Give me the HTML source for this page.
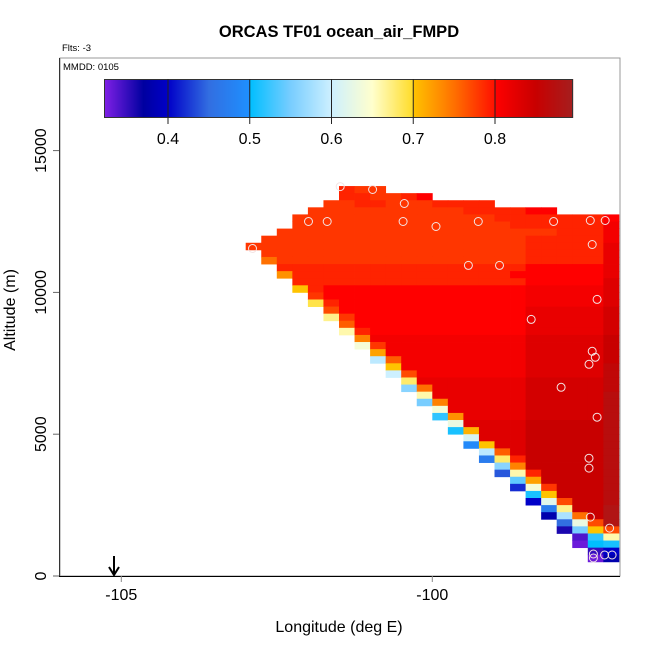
<!DOCTYPE html>
<html><head><meta charset="utf-8"><style>
html,body{margin:0;padding:0;background:#fff;}
svg{display:block;font-family:"Liberation Sans",sans-serif;}
</style></head><body>
<svg id="chart" width="650" height="650" viewBox="0 0 650 650">
<text x="339" y="37" text-anchor="middle" font-size="16.5" font-weight="bold">ORCAS TF01 ocean_air_FMPD</text>
<text x="62" y="51" font-size="9.5">Flts: -3</text>
<g id="cells"></g>
<g id="pts"></g>
<rect x="60" y="58" width="560" height="518" fill="none" stroke="#999" stroke-width="1"/>
<line x1="59.5" y1="58" x2="59.5" y2="576" stroke="#333"/>
<line x1="59" y1="576.5" x2="620" y2="576.5" stroke="#000"/>
<text x="63" y="70" font-size="9.5">MMDD: 0105</text>
<g id="cbar"></g>
<g id="axes"></g>
<text x="339" y="632" text-anchor="middle" font-size="16">Longitude (deg E)</text>
<text transform="translate(15,310) rotate(-90)" text-anchor="middle" font-size="16">Altitude (m)</text>
<g>
<line x1="114" y1="556" x2="114" y2="574" stroke="#000" stroke-width="2"/>
<path d="M109,567 L114,575 L119,567" fill="none" stroke="#000" stroke-width="2"/>
</g>
</svg>
<script>
// ---- data ----
const rowAlts = [13500,13250,13000,12750,12500,12250,12000,11750,11500,11250,11000,10750,10500,10250,10000,9750,9500,9250,9000,8750,8500,8250,8000,7750,7500,7250,7000,6750,6500,6250,6000,5750,5500,5250,5000,4750,4500,4250,4000,3750,3500,3250,3000,2750,2500,2250,2000,1750,1500,1250,1000,750,500];
const rowStartLon = [-101.5,-101.5,-101.75,-102,-102.25,-102.25,-102.5,-102.75,-103,-102.75,-102.75,-102.5,-102.5,-102.25,-102.25,-102,-102,-101.75,-101.75,-101.5,-101.5,-101.25,-101.25,-101,-101,-100.75,-100.75,-100.5,-100.5,-100.25,-100.25,-100,-100,-99.75,-99.75,-99.5,-99.5,-99.25,-99.25,-99,-99,-98.75,-98.75,-98.5,-98.5,-98.25,-98.25,-98,-98,-97.75,-97.75,-97.5,-97.5];
const rowValues = [
"79 78 78",
"79 79 78 78 79 80",
"78 78 79 79 78 78 78 79 79 79 79",
"78 78 78 78 78 78 78 78 78 78 79 79 79 79 80 80",
"78 78 78 78 78 78 78 78 78 78 78 78 78 79 79 79 79 79 79 79 80",
"78 78 78 78 78 78 78 78 78 78 78 78 78 78 79 79 79 79 79 79 81",
"78 78 78 78 78 78 78 78 78 78 78 78 78 78 78 78 78 78 79 79 79 81",
"78 78 78 78 78 78 78 78 78 78 78 78 78 78 78 78 78 79 79 79 79 79 81",
"78 78 78 78 78 78 78 78 78 78 78 78 78 78 78 78 78 78 79 79 79 79 79 82",
"78 78 78 78 78 78 78 78 78 78 78 78 78 78 78 78 78 79 79 79 79 79 82",
"75 78 78 78 78 78 78 78 78 78 78 78 78 78 78 78 78 79 79 79 79 79 82",
"79 79 79 79 79 79 79 79 79 79 79 79 79 79 79 79 80 80 80 80 80 82",
"73 79 79 79 79 79 79 79 79 79 79 79 79 79 79 80 80 80 80 80 80 82",
"79 79 79 79 79 79 79 79 79 79 79 79 79 79 79 80 80 80 80 80 83",
"70 79 80 80 80 80 80 80 80 80 80 80 80 80 80 81 81 81 81 81 83",
"78 80 80 80 80 80 80 80 80 80 80 80 80 80 81 81 81 81 81 83",
"69 79 80 80 80 80 80 80 80 80 80 80 80 80 81 81 81 81 81 83",
"77 80 80 80 80 80 80 80 80 80 80 80 80 82 82 82 82 82 84",
"67 78 80 80 80 80 80 80 80 80 80 80 80 82 82 82 82 82 84",
"76 80 80 80 80 80 80 80 80 80 80 80 82 82 82 82 82 84",
"66 79 80 80 80 80 80 80 80 80 80 80 82 82 82 82 82 84",
"74 81 81 81 81 81 81 81 81 81 81 83 83 83 83 83 85",
"64 78 81 81 81 81 81 81 81 81 81 83 83 83 83 83 85",
"72 81 81 81 81 81 81 81 81 81 83 83 83 83 83 85",
"59 76 81 81 81 81 81 81 81 81 83 83 83 83 83 85",
"70 81 81 81 81 81 81 81 81 83 83 83 83 83 86",
"60 77 81 81 81 81 81 81 81 83 83 83 83 83 86",
"68 82 82 82 82 82 82 82 84 84 84 84 84 86",
"56 75 82 82 82 82 82 82 84 84 84 84 84 86",
"66 82 82 82 82 82 82 84 84 84 84 84 87",
"55 74 82 82 82 82 82 84 84 84 84 84 87",
"64 82 82 82 82 82 84 84 84 84 84 87",
"52 73 82 82 82 82 84 84 84 84 84 87",
"63 83 83 83 83 85 85 85 85 85 87",
"51 71 83 83 83 85 85 85 85 85 87",
"61 83 83 83 85 85 85 85 85 87",
"49 70 83 83 85 85 85 85 85 87",
"59 76 83 85 85 85 85 85 87",
"47 68 79 85 85 85 85 85 87",
"56 74 85 85 85 85 85 87",
"44 66 79 85 85 85 85 87",
"54 72 85 85 85 85 87",
"42 64 78 85 85 85 87",
"51 70 85 85 85 87",
"40 62 77 85 85 87",
"47 67 85 85 88",
"38 58 75 85 88",
"45 63 77 88",
"36 55 70 77",
"34 52 66",
"33 50 51",
"35 40",
"33 38"
];
const pointLon = [-101.48,-100.96,-100.45,-101.99,-101.69,-100.47,-99.94,-99.26,-98.05,-97.46,-97.22,-102.89,-97.43,-99.42,-98.92,-97.35,-98.41,-97.43,-97.38,-97.48,-97.93,-97.35,-97.48,-97.48,-97.46,-97.15,-97.41,-97.41,-97.23,-97.11];
const pointAlt = [13732,13627,13134,12500,12500,12500,12324,12500,12500,12535,12535,11549,11690,10951,10951,9754,9049,7923,7711,7465,6655,5599,4155,3803,2077,1690,775,634,740,740];
const xTicks = [-105,-100];
const yTicks = [0,5000,10000,15000];
const cbTicks = [0.4,0.5,0.6,0.7,0.8];

// ---- scales ----
const x = lon => 121.3 + (lon + 105) * 62.2;
const y = alt => 576 - alt * 0.02836;
const CW = 0.25, RH = 250;
const stops = [[0.322,[128,32,230]],[0.37,[0,0,160]],[0.40,[0,0,200]],[0.45,[50,110,225]],[0.4999,[30,144,255]],[0.5,[0,190,255]],[0.55,[120,205,255]],[0.6,[205,240,255]],[0.65,[255,255,205]],[0.6999,[255,220,40]],[0.70,[255,195,0]],[0.75,[255,112,0]],[0.7999,[255,16,0]],[0.80,[255,0,0]],[0.85,[200,0,0]],[0.895,[165,30,30]]];
function col(v){
  if(v<=stops[0][0]) return 'rgb('+stops[0][1]+')';
  for(let i=1;i<stops.length;i++){
    if(v<=stops[i][0]){
      const a=stops[i-1],b=stops[i],t=(v-a[0])/(b[0]-a[0]);
      return 'rgb('+a[1].map((c,k)=>Math.round(c+(b[1][k]-c)*t)).join(',')+')';
    }
  }
  return 'rgb('+stops[stops.length-1][1]+')';
}
const NS='http://www.w3.org/2000/svg';
function mk(tag,attrs,parent){const e=document.createElementNS(NS,tag);for(const k in attrs)e.setAttribute(k,attrs[k]);parent.appendChild(e);return e;}

const cells=document.getElementById('cells');
rowAlts.forEach((alt,r)=>{
  const vals=rowValues[r].trim().split(/\s+/).map(s=>+s/100);
  vals.forEach((v,c)=>{
    const lon=rowStartLon[r]+c*CW;
    const x0=x(lon),x1=x(lon+CW),y0=y(alt+RH),y1=y(alt);
    const e=mk('rect',{x:x0.toFixed(2),y:y0.toFixed(2),width:(x1-x0+0.4).toFixed(2),height:(y1-y0+0.4).toFixed(2),fill:col(v)},cells);
    
    
  });
});
const pts=document.getElementById('pts');
pointLon.forEach((lon,i)=>{
  const e=mk('circle',{cx:x(lon).toFixed(1),cy:y(pointAlt[i]).toFixed(1),r:4,fill:'none',stroke:'#f4e4e4','stroke-width':1},pts);
  
  
});
// colorbar
const cb=document.getElementById('cbar');
const cbx = v => 168 + (v-0.4)*817.5;
for(let px=104;px<573;px++){
  const v=0.4+(px+0.5-168)/817.5;
  const e=mk('rect',{x:px,y:79,width:1.2,height:39,fill:col(v)},cb);
  
  
}
const fr=mk('rect',{x:104.5,y:79.5,width:468,height:38,fill:'none',stroke:'#333'},cb);


cbTicks.forEach(t=>{
  const l=mk('line',{x1:cbx(t),y1:79,x2:cbx(t),y2:124,stroke:'#222','stroke-width':1},cb);
  
  
  const tx=mk('text',{x:cbx(t),y:144,'text-anchor':'middle','font-size':16},cb);
  tx.textContent=t.toFixed(1);
  
  
});
// axes
const ax=document.getElementById('axes');
xTicks.forEach(t=>{
  const l=mk('line',{x1:x(t),y1:576,x2:x(t),y2:582,stroke:'#888'},ax);
  
  
  const tx=mk('text',{x:x(t),y:600,'text-anchor':'middle','font-size':16},ax);
  tx.textContent=String(t);
  
  
});
yTicks.forEach(t=>{
  const l=mk('line',{x1:53,y1:y(t),x2:59,y2:y(t),stroke:'#666'},ax);
  
  
  const tx=mk('text',{transform:'translate(46,'+y(t).toFixed(1)+') rotate(-90)','text-anchor':'middle','font-size':16},ax);
  tx.textContent=String(t);
  
  
});
</script>
</body></html>
